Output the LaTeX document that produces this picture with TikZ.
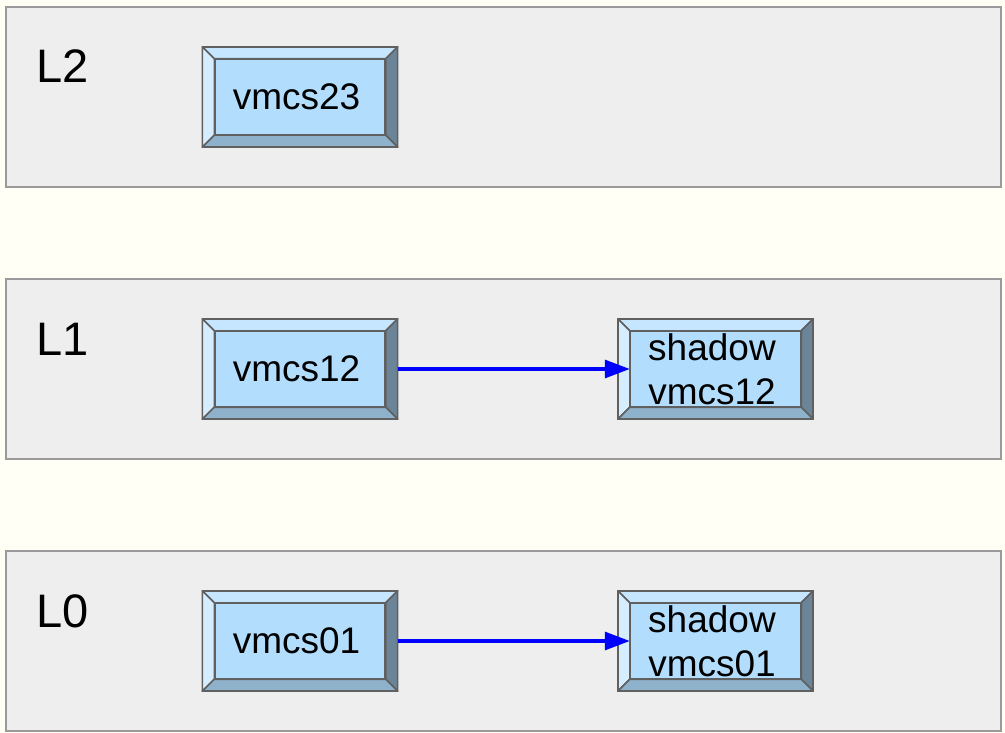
\documentclass[tikz,border=0pt]{standalone}
\usepackage{fontspec}
\setmainfont{Liberation Sans}
\usetikzlibrary{arrows.meta}
\definecolor{bgc}{RGB}{255,255,245}
\definecolor{layerfill}{RGB}{238,238,238}
\definecolor{layerdraw}{RGB}{154,154,154}
\definecolor{facec}{RGB}{178,221,253}
\definecolor{topc}{RGB}{198,230,255}
\definecolor{leftc}{RGB}{213,237,255}
\definecolor{rightc}{RGB}{107,132,151}
\definecolor{botc}{RGB}{142,178,204}
\definecolor{edgec}{RGB}{96,96,96}
\tikzset{
  layer/.style={draw=layerdraw, fill=layerfill, line width=1.5bp, minimum width=995bp, minimum height=180bp, inner sep=0pt},
  layerlabel/.style={anchor=base west, inner sep=0pt, font=\fontsize{47bp}{52bp}\selectfont},
  outerbox/.style={draw=edgec, line width=1.5bp, minimum width=195bp, minimum height=100bp, inner sep=0pt},
  facebox/.style={draw=edgec, fill=facec, line width=1.5bp, minimum width=170bp, minimum height=75bp, inner sep=0pt},
  boxtext/.style={inner sep=0pt, align=center, font=\fontsize{37bp}{44bp}\selectfont},
  bevel/.style={draw=edgec, line width=1.5bp, line join=round},
  link/.style={draw={rgb,255:red,0;green,0;blue,255}, line width=3.2bp, -{Triangle[length=25bp,width=18bp]}}
}
\newcommand\bvbox[4]{%
  \node[facebox] (#1-f) at (#2,#3) {};
  \node[boxtext] (#1-t) at ([xshift=-3.5bp]#1-f.center) {#4};
  \node[minimum width=195bp, minimum height=100bp, inner sep=0pt] (#1) at (#2,#3) {};
  \path[bevel, fill=topc] (#1.north west) -- (#1.north east) -- (#1-f.north east) -- (#1-f.north west) -- cycle;
  \path[bevel, fill=leftc] (#1.north west) -- (#1-f.north west) -- (#1-f.south west) -- (#1.south west) -- cycle;
  \path[bevel, fill=rightc] (#1.north east) -- (#1.south east) -- (#1-f.south east) -- (#1-f.north east) -- cycle;
  \path[bevel, fill=botc] (#1.south west) -- (#1-f.south west) -- (#1-f.south east) -- (#1.south east) -- cycle;
  \node[outerbox] at (#1.center) {};
}
\begin{document}
\begin{tikzpicture}[x=1bp,y=-1bp]
\fill[bgc] (0,0) rectangle (1005,733);
\useasboundingbox (0,0) rectangle (1005,733);
% layers
\node[layer] (lay2) at (503.5,97) {};
\node[layer] (lay1) at (503.5,369) {};
\node[layer] (lay0) at (503.5,641) {};
\node[layerlabel] (lab2) at (36,83) {L2};
\node[layerlabel] (lab1) at (36,355) {L1};
\node[layerlabel] (lab0) at (36,627) {L0};
% boxes
\bvbox{v23}{300}{97}{vmcs23}
\bvbox{v12}{300}{369}{vmcs12}
\bvbox{s12}{715.5}{369}{shadow\\vmcs12}
\bvbox{v01}{300}{641}{vmcs01}
\bvbox{s01}{715.5}{641}{shadow\\vmcs01}
% links
\draw[link] (v12.east) -- (s12-f.west);
\draw[link] (v01.east) -- (s01-f.west);
\end{tikzpicture}
\end{document}
